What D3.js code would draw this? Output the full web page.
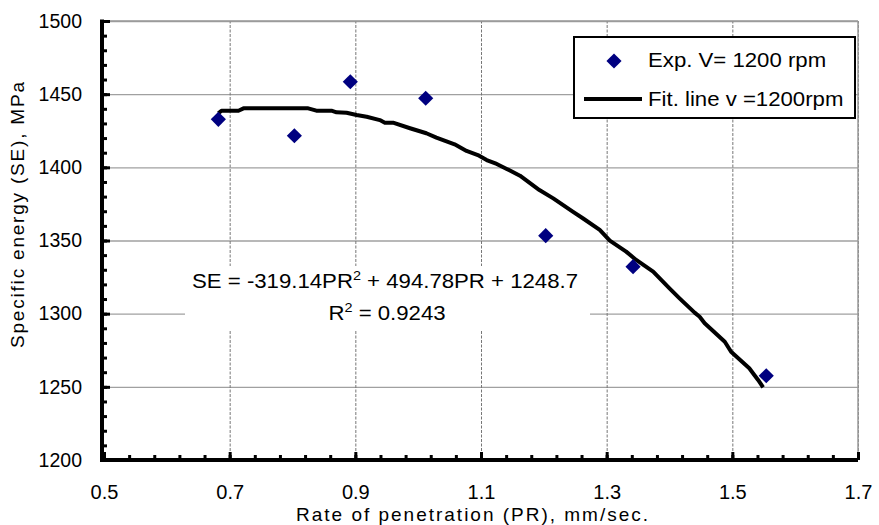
<!DOCTYPE html>
<html>
<head>
<meta charset="utf-8">
<script src="https://cdn.jsdelivr.net/npm/d3@7"></script>
<style>
  body { margin: 0; background: #fff; }
  svg { display: block; font-family: "Liberation Sans", Arial, Helvetica, sans-serif; }
  .axis path { display: none; }
</style>
</head>
<body>
<div id="chart"></div>
<script>
'use strict';

// measured points, rate of penetration (mm/sec) vs specific energy (MPa)
var expPR = [0.682, 0.803, 0.892, 1.012, 1.203, 1.342, 1.554];
var expSE = [1432.8, 1421.6, 1458.5, 1447.2, 1353.3, 1332.1, 1257.6];

// fit line
var fitPR = [0.682, 0.687, 0.714, 0.722, 0.825, 0.838, 0.862, 0.870, 0.886, 0.902,
             0.918, 0.939, 0.947, 0.960, 0.987, 1.013, 1.029, 1.058, 1.077, 1.095,
             1.109, 1.125, 1.141, 1.162, 1.193, 1.215, 1.246, 1.262, 1.289, 1.305,
             1.331, 1.347, 1.374, 1.400, 1.416, 1.440, 1.448, 1.456, 1.488, 1.498,
             1.527, 1.535, 1.541, 1.549];
var fitSE = [1436.9, 1438.7, 1438.7, 1440.3, 1440.3, 1438.7, 1438.7, 1437.6, 1437.3, 1435.8,
             1434.6, 1432.3, 1430.5, 1430.5, 1426.7, 1423.3, 1420.3, 1415.7, 1411.2, 1408.4,
             1405.0, 1402.3, 1398.9, 1394.3, 1384.5, 1378.8, 1369.7, 1365.2, 1357.2, 1349.9,
             1342.4, 1336.7, 1328.7, 1317.3, 1310.5, 1300.7, 1297.9, 1293.4, 1280.8, 1274.0,
             1262.7, 1258.1, 1254.7, 1249.7];

var xTicks = [0.5, 0.7, 0.9, 1.1, 1.3, 1.5, 1.7];
var yTicks = [1200, 1250, 1300, 1350, 1400, 1450, 1500];
var xMinor = d3.range(0, 31).map(function (i) { return +(0.5 + i * 0.04).toFixed(2); });
var yMinor = d3.range(0, 31).map(function (i) { return 1200 + i * 10; });

var legendLabels = ['Exp. V= 1200 rpm', 'Fit. line v =1200rpm'];

var W = 879, H = 525
  , pLeft = 104, pRight = 858, pTop = 21, pBottom = 460
  , navy = '#000080'
  , wide = 1.11   // the source font renders a little wider than Liberation
;

var x = d3.scaleLinear().domain([0.5, 1.7]).range([pLeft, pRight]);
var y = d3.scaleLinear().domain([1200, 1500]).range([pBottom, pTop]);

var svg = d3.select('#chart').append('svg')
    .attr('width', W)
    .attr('height', H);

// grid
svg.append('g')
    .attr('class', 'axis grid-y')
    .attr('transform', 'translate(' + pLeft + ',0)')
    .call(d3.axisLeft(y).tickValues(yTicks.slice(1)).tickSize(-(pRight - pLeft)).tickFormat(''))
    .selectAll('line')
    .attr('stroke', '#a0a0a0')
    .attr('stroke-width', 1.3);

svg.append('g')
    .attr('class', 'axis grid-x')
    .attr('transform', 'translate(0,' + pBottom + ')')
    .call(d3.axisBottom(x).tickValues(xTicks.slice(1)).tickSize(-(pBottom - pTop)).tickFormat(''))
    .selectAll('line')
    .attr('stroke', '#777')
    .attr('stroke-width', 1)
    .attr('stroke-dasharray', '3,1.5');

// white box behind the equation
svg.append('rect')
    .attr('x', 185).attr('y', 266)
    .attr('width', 405).attr('height', 64)
    .attr('fill', '#fff');

// equation
var eq = svg.append('text')
    .attr('transform', 'translate(385,288) scale(' + wide + ',1)')
    .attr('text-anchor', 'middle')
    .attr('font-size', 20)
    .attr('fill', '#000');
eq.append('tspan').text('SE = -319.14PR');
eq.append('tspan').attr('dy', -8).attr('font-size', 13).text('2');
eq.append('tspan').attr('dy', 8).text(' + 494.78PR + 1248.7');

var r2 = svg.append('text')
    .attr('transform', 'translate(387,320) scale(' + wide + ',1)')
    .attr('text-anchor', 'middle')
    .attr('font-size', 20)
    .attr('fill', '#000');
r2.append('tspan').text('R');
r2.append('tspan').attr('dy', -8).attr('font-size', 13).text('2');
r2.append('tspan').attr('dy', 8).text(' = 0.9243');

// fit line
var line = d3.line()
    .x(function (d, i) { return x(fitPR[i]); })
    .y(function (d, i) { return y(fitSE[i]); });

svg.append('path')
    .datum(fitPR)
    .attr('d', line)
    .attr('fill', 'none')
    .attr('stroke', '#000')
    .attr('stroke-width', 4)
    .attr('stroke-linejoin', 'round');

// points
var diamond = d3.symbol().type(d3.symbolSquare).size(115);
svg.selectAll('path.pt')
    .data(expPR)
    .enter()
    .append('path')
    .attr('class', 'pt')
    .attr('d', diamond)
    .attr('transform', function (d, i) {
      return 'translate(' + x(d) + ',' + y(expSE[i]) + ') rotate(45)';
    })
    .attr('fill', navy);

// frame: top and right light, left and bottom heavy
svg.append('line')
    .attr('x1', pLeft).attr('x2', pRight).attr('y1', pTop).attr('y2', pTop)
    .attr('stroke', '#9a9a9a').attr('stroke-width', 1.5);
svg.append('line')
    .attr('x1', pRight).attr('x2', pRight).attr('y1', pTop).attr('y2', pBottom)
    .attr('stroke', '#9a9a9a').attr('stroke-width', 1.5);

// minor + major inward ticks
svg.append('g')
    .attr('class', 'axis')
    .attr('transform', 'translate(' + (pLeft - 2) + ',0)')
    .call(d3.axisLeft(y).tickValues(yMinor).tickSize(-5).tickFormat(''))
    .selectAll('line').attr('stroke', '#000').attr('stroke-width', 3);
svg.append('g')
    .attr('class', 'axis')
    .attr('transform', 'translate(' + (pLeft - 2) + ',0)')
    .call(d3.axisLeft(y).tickValues(yTicks).tickSize(-8).tickFormat(''))
    .selectAll('line').attr('stroke', '#000').attr('stroke-width', 3);
svg.append('g')
    .attr('class', 'axis')
    .attr('transform', 'translate(0,' + pBottom + ')')
    .call(d3.axisBottom(x).tickValues(xMinor).tickSize(-5).tickFormat(''))
    .selectAll('line').attr('stroke', '#000').attr('stroke-width', 3);
svg.append('g')
    .attr('class', 'axis')
    .attr('transform', 'translate(0,' + pBottom + ')')
    .call(d3.axisBottom(x).tickValues(xTicks).tickSize(-8).tickFormat(''))
    .selectAll('line').attr('stroke', '#000').attr('stroke-width', 3);

svg.append('line')
    .attr('x1', pLeft - 2).attr('x2', pLeft - 2).attr('y1', pTop - 1.5).attr('y2', pBottom + 2)
    .attr('stroke', '#000').attr('stroke-width', 4);
svg.append('line')
    .attr('x1', pLeft - 4).attr('x2', pRight).attr('y1', pBottom).attr('y2', pBottom)
    .attr('stroke', '#000').attr('stroke-width', 4);

// tick labels
svg.append('g')
    .attr('class', 'axis')
    .attr('transform', 'translate(' + (pLeft - 2) + ',0)')
    .call(d3.axisLeft(y).tickValues(yTicks).tickSize(0).tickPadding(20).tickFormat(d3.format('d')))
    .selectAll('text')
    .attr('font-size', 19.5)
    .attr('font-family', '"Liberation Sans", Arial, sans-serif')
    .attr('fill', '#000');

svg.append('g')
    .attr('class', 'axis')
    .attr('transform', 'translate(0,' + pBottom + ')')
    .call(d3.axisBottom(x).tickValues(xTicks).tickSize(0).tickPadding(25).tickFormat(d3.format('.1f')))
    .selectAll('text')
    .attr('font-size', 20)
    .attr('font-family', '"Liberation Sans", Arial, sans-serif')
    .attr('fill', '#000');

// axis titles
svg.append('text')
    .attr('x', 472).attr('y', 521)
    .attr('text-anchor', 'middle')
    .attr('font-size', 19)
    .attr('textLength', 352)
    .attr('lengthAdjust', 'spacing')
    .text('Rate of penetration (PR), mm/sec.');

svg.append('text')
    .attr('transform', 'translate(24,215) rotate(-90)')
    .attr('text-anchor', 'middle')
    .attr('font-size', 19)
    .attr('textLength', 266)
    .attr('lengthAdjust', 'spacing')
    .text('Specific energy (SE), MPa');

// legend
var lg = svg.append('g').attr('class', 'legend');
lg.append('rect')
    .attr('x', 574).attr('y', 37)
    .attr('width', 281).attr('height', 81)
    .attr('fill', '#fff')
    .attr('stroke', '#000')
    .attr('stroke-width', 2);
lg.append('path')
    .attr('d', diamond)
    .attr('transform', 'translate(614,61) rotate(45)')
    .attr('fill', navy);
lg.append('line')
    .attr('x1', 584).attr('x2', 642).attr('y1', 99).attr('y2', 99)
    .attr('stroke', '#000').attr('stroke-width', 4);
lg.selectAll('text')
    .data(legendLabels)
    .enter()
    .append('text')
    .attr('transform', function (d, i) {
      return 'translate(648,' + (i ? 106 : 67) + ') scale(' + wide + ',1)';
    })
    .attr('font-size', 20)
    .text(function (d) { return d; });
</script>
</body>
</html>
